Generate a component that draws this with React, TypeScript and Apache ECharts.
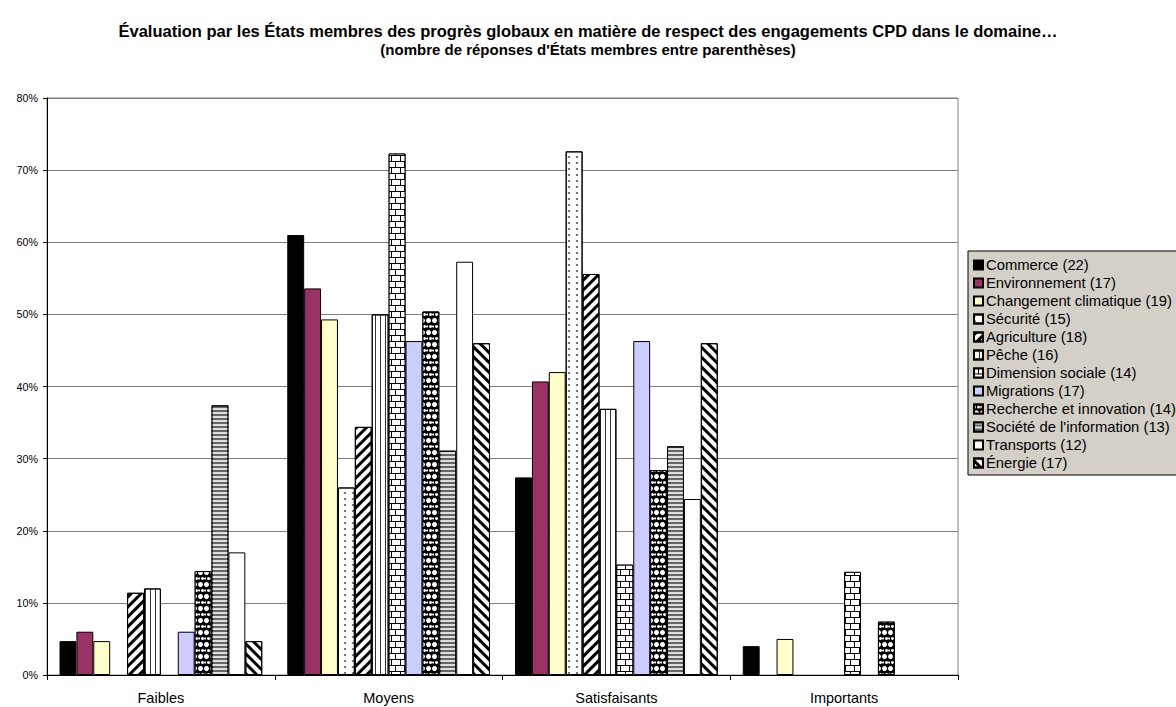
import React, { useEffect, useRef } from "react";
import * as echarts from "echarts";

const categories = ["Faibles", "Moyens", "Satisfaisants", "Importants"];
const seriesNames = [
  "Commerce (22)",
  "Environnement (17)",
  "Changement climatique (19)",
  "Sécurité (15)",
  "Agriculture (18)",
  "Pêche (16)",
  "Dimension sociale (14)",
  "Migrations (17)",
  "Recherche et innovation (14)",
  "Société de l'information (13)",
  "Transports (12)",
  "Énergie (17)",
];
const commerce = [4.7, 61.0, 27.4, 4.0];
const environnement = [6.0, 53.6, 40.7, null];
const changementClimatique = [4.7, 49.3, 42.0, 5.0];
const securite = [null, 26.0, 72.6, null];
const agriculture = [11.4, 34.4, 55.6, null];
const peche = [12.0, 50.0, 36.9, null];
const dimensionSociale = [null, 72.3, 15.3, 14.3];
const migrations = [6.0, 46.3, 46.3, null];
const recherche = [14.4, 50.4, 28.4, 7.4];
const societe = [37.4, 31.1, 31.7, null];
const transports = [17.0, 57.3, 24.4, null];
const energie = [4.7, 46.0, 46.0, null];

const seriesValues = [
  commerce,
  environnement,
  changementClimatique,
  securite,
  agriculture,
  peche,
  dimensionSociale,
  migrations,
  recherche,
  societe,
  transports,
  energie,
];

const titleLine1 =
  "Évaluation par les États membres des progrès globaux en matière de respect des engagements CPD dans le domaine…";
const titleLine2 = "(nombre de réponses d'États membres entre parenthèses)";

const FONT = 'Arial, "Liberation Sans", sans-serif';

const styles: any[] = [
  { color: "#000000" },
  { color: "#993366" },
  { color: "#FFFFCC" },
  {
    color: "#FFFFFF",
    decal: { symbol: "circle", symbolSize: 1, color: "#555", dashArrayX: [2, 6], dashArrayY: [2, 4] },
  },
  {
    color: "#FFFFFF",
    decal: { symbol: "rect", color: "#000", dashArrayX: [1, 0], dashArrayY: [3, 4], rotation: -Math.PI / 4 },
  },
  {
    color: "#FFFFFF",
    decal: { symbol: "rect", color: "#333", dashArrayX: [1, 4], dashArrayY: [10, 0] },
  },
  {
    color: "#000000",
    decal: { symbol: "rect", color: "#FFFFFF", dashArrayX: [[8, 1], [4, 1, 4, 0]], dashArrayY: [5, 1] },
  },
  { color: "#CCCCFF" },
  {
    color: "#000000",
    decal: { symbol: "circle", symbolSize: 1, color: "#FFFFFF", dashArrayX: [[5, 1], [2, 1, 3, 0]], dashArrayY: [5, 1] },
  },
  {
    color: "#666666",
    decal: { symbol: "rect", color: "#DDDDDD", dashArrayX: [1, 0], dashArrayY: [1.5, 1.5] },
  },
  { color: "#FFFFFF" },
  {
    color: "#FFFFFF",
    decal: { symbol: "rect", color: "#000", dashArrayX: [1, 0], dashArrayY: [3, 4], rotation: Math.PI / 4 },
  },
];

export default function App() {
  const ref = useRef<HTMLDivElement>(null);
  useEffect(() => {
    if (!ref.current) return;
    const chart = echarts.init(ref.current, null, { renderer: "svg" });
    chart.setOption({
      animation: false,
      backgroundColor: "#FFFFFF",
      title: {
        text: "{a|" + titleLine1 + "}\n{b|" + titleLine2 + "}",
        left: "center",
        top: 17,
        textStyle: {
          fontFamily: FONT,
          fontWeight: "bold",
          color: "#000",
          rich: {
            a: { fontFamily: FONT, fontSize: 16.5, fontWeight: "bold", color: "#000", lineHeight: 18 },
            b: { fontFamily: FONT, fontSize: 15, fontWeight: "bold", color: "#000", lineHeight: 18 },
          },
        },
      },
      legend: {
        orient: "vertical",
        left: 968,
        top: 251,
        padding: [5, 60, 3, 5],
        itemWidth: 9,
        itemHeight: 9,
        itemGap: 0,
        icon: "rect",
        backgroundColor: "#D4D0C8",
        borderColor: "#000",
        borderWidth: 1,
        textStyle: { fontFamily: FONT, fontSize: 14.8, lineHeight: 18, color: "#000", padding: [0, 0, 0, -2] },
        data: seriesNames,
      },
      grid: {
        left: 47,
        top: 98,
        width: 911,
        height: 577,
        show: true,
        borderColor: "#808080",
        borderWidth: 1,
        containLabel: false,
      },
      xAxis: {
        type: "category",
        data: categories,
        axisLine: { lineStyle: { color: "#000", width: 1 } },
        axisTick: { show: true, length: 5, lineStyle: { color: "#000" } },
        axisLabel: { fontFamily: FONT, fontSize: 14.5, color: "#000", margin: 15 },
      },
      yAxis: {
        type: "value",
        min: 0,
        max: 80,
        interval: 10,
        axisLine: { show: true, lineStyle: { color: "#000", width: 1 } },
        axisTick: { show: true, length: 4, lineStyle: { color: "#000" } },
        axisLabel: { fontFamily: FONT, fontSize: 10.7, color: "#000", margin: 9, formatter: "{value}%" },
        splitLine: { show: true, lineStyle: { color: "#808080", width: 1 } },
      },
      series: seriesNames.map((name, i) => ({
        name,
        type: "bar",
        data: seriesValues[i],
        barGap: "0%",
        barCategoryGap: "11%",
        itemStyle: { ...styles[i], borderColor: "#000", borderWidth: 1 },
      })),
    });
    return () => chart.dispose();
  }, []);
  return (
    <div
      ref={ref}
      style={{ position: "fixed", left: 0, top: 0, width: 1176, height: 707, background: "#fff" }}
    />
  );
}
